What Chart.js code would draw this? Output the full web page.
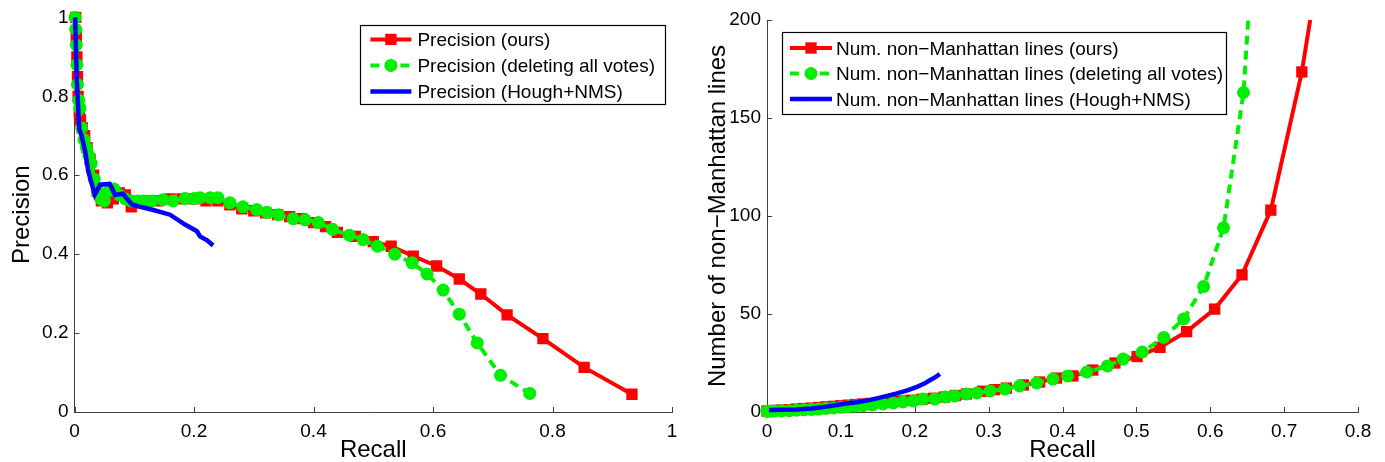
<!DOCTYPE html>
<html lang="en">
<head>
    <meta charset="UTF-8">
    <title>Precision / non-Manhattan lines vs Recall</title>
    <script src="https://cdn.jsdelivr.net/npm/chart.js"></script>
    <style>
        body {
            margin: 0;
            background: white;
        }

        .figure {
            position: relative;
            width: 1385px;
            height: 462px;
            overflow: hidden;
        }

        .figure canvas {
            position: absolute;
            top: 0;
        }
    </style>
</head>
<body>
    <div class="figure">
        <canvas id="precisionChart" width="690" height="465" style="left:0"></canvas>
        <canvas id="linesChart" width="695" height="465" style="left:690px"></canvas>
    </div>

    <script>
        // ---- left panel: precision vs recall ----
        const precOursRecall = [0.002, 0.003, 0.004, 0.005, 0.006, 0.008, 0.010, 0.013, 0.017, 0.021, 0.026, 0.032, 0.038, 0.045, 0.055, 0.065, 0.075, 0.085, 0.095, 0.105, 0.12, 0.14, 0.16, 0.18, 0.20, 0.22, 0.24, 0.26, 0.28, 0.30, 0.32, 0.34, 0.36, 0.38, 0.40, 0.42, 0.44, 0.47, 0.50, 0.53, 0.567, 0.606, 0.644, 0.680, 0.724, 0.784, 0.853, 0.933];
        const precOurs = [1.0, 0.95, 0.90, 0.85, 0.80, 0.76, 0.74, 0.72, 0.70, 0.67, 0.64, 0.60, 0.56, 0.535, 0.53, 0.54, 0.555, 0.55, 0.52, 0.53, 0.535, 0.535, 0.54, 0.54, 0.54, 0.535, 0.535, 0.525, 0.515, 0.51, 0.505, 0.50, 0.495, 0.49, 0.48, 0.47, 0.455, 0.445, 0.432, 0.42, 0.395, 0.37, 0.337, 0.299, 0.246, 0.186, 0.113, 0.045];

        const precDelRecall = [0.001, 0.002, 0.003, 0.004, 0.005, 0.007, 0.009, 0.012, 0.016, 0.020, 0.024, 0.028, 0.033, 0.038, 0.044, 0.050, 0.058, 0.066, 0.075, 0.085, 0.095, 0.105, 0.115, 0.13, 0.148, 0.165, 0.185, 0.20, 0.21, 0.227, 0.24, 0.26, 0.282, 0.305, 0.322, 0.341, 0.366, 0.386, 0.408, 0.432, 0.46, 0.483, 0.507, 0.536, 0.565, 0.590, 0.617, 0.644, 0.674, 0.713, 0.762];
        const precDel = [1.0, 0.97, 0.93, 0.88, 0.83, 0.79, 0.77, 0.72, 0.69, 0.67, 0.65, 0.63, 0.59, 0.56, 0.54, 0.535, 0.56, 0.565, 0.55, 0.54, 0.535, 0.535, 0.535, 0.535, 0.538, 0.535, 0.541, 0.541, 0.543, 0.543, 0.543, 0.53, 0.52, 0.513, 0.506, 0.50, 0.49, 0.487, 0.48, 0.463, 0.448, 0.437, 0.42, 0.40, 0.378, 0.35, 0.309, 0.248, 0.175, 0.093, 0.047];

        const precHoughRecall = [0.001, 0.004, 0.008, 0.012, 0.018, 0.023, 0.031, 0.034, 0.043, 0.059, 0.068, 0.081, 0.096, 0.11, 0.132, 0.16, 0.185, 0.205, 0.21, 0.222, 0.232];
        const precHough = [1.0, 0.835, 0.717, 0.70, 0.66, 0.61, 0.567, 0.551, 0.576, 0.578, 0.55, 0.553, 0.526, 0.52, 0.512, 0.50, 0.475, 0.458, 0.445, 0.435, 0.422];

        // ---- right panel: number of non-Manhattan lines vs recall ----
        const linesOursRecall = [0, 0.005, 0.01, 0.02, 0.03, 0.04, 0.05, 0.06, 0.07, 0.08, 0.09, 0.10, 0.11, 0.12, 0.13, 0.14, 0.15, 0.165, 0.18, 0.195, 0.21, 0.225, 0.24, 0.255, 0.27, 0.292, 0.308, 0.324, 0.347, 0.369, 0.392, 0.414, 0.441, 0.471, 0.501, 0.532, 0.568, 0.606, 0.643, 0.682, 0.724, 0.765];
        const linesOurs = [0.5, 0.6, 0.8, 1.0, 1.2, 1.5, 1.8, 2.0, 2.3, 2.6, 2.9, 3.2, 3.5, 3.8, 4.1, 4.4, 4.8, 5.2, 5.6, 6.0, 6.5, 7.0, 7.6, 8.4, 9.2, 10.6, 11.4, 12.2, 13.8, 15.3, 17.3, 18.4, 21.4, 25.0, 28.3, 33, 41, 52.5, 70, 103, 173.5, 270];

        const linesDelRecall = [0, 0.005, 0.01, 0.02, 0.03, 0.04, 0.05, 0.06, 0.07, 0.08, 0.09, 0.10, 0.11, 0.12, 0.13, 0.143, 0.157, 0.171, 0.184, 0.198, 0.211, 0.227, 0.241, 0.254, 0.27, 0.284, 0.302, 0.322, 0.342, 0.365, 0.387, 0.407, 0.433, 0.461, 0.482, 0.508, 0.537, 0.564, 0.591, 0.618, 0.645, 0.66];
        const linesDel = [0.3, 0.4, 0.5, 0.6, 0.7, 0.9, 1.1, 1.3, 1.5, 1.8, 2.1, 2.4, 2.7, 3.0, 3.3, 3.6, 4.1, 4.6, 5.1, 5.6, 6.6, 6.6, 7.7, 8.2, 9.2, 9.7, 10.7, 11.7, 13.3, 14.8, 16.8, 18.4, 20.4, 23.5, 27, 30.6, 38, 47.5, 64, 94, 163, 250];

        const linesHoughRecall = [0.003, 0.02, 0.04, 0.06, 0.076, 0.09, 0.105, 0.122, 0.14, 0.157, 0.176, 0.19, 0.203, 0.213, 0.221, 0.228, 0.234];
        const linesHough = [1, 1.1, 1.3, 1.8, 2.5, 3.3, 4.2, 5.0, 6.2, 7.7, 9.5, 11.0, 12.8, 14.5, 16.3, 17.8, 19.4];

        const precLabels = ["Precision (ours)", "Precision (deleting all votes)", "Precision (Hough+NMS)"];
        const linesLabels = ["Num. non\u2212Manhattan lines (ours)", "Num. non\u2212Manhattan lines (deleting all votes)", "Num. non\u2212Manhattan lines (Hough+NMS)"];

        const FONT = "'Liberation Sans', Arial, sans-serif";
        const AXIS_COLOR = "#404040";
        const RED = "#ff0000", GREEN = "#00ee00", BLUE = "#0000ff";

        function points(xs, ys) {
            return xs.map((x, i) => ({ x: x, y: ys[i] }));
        }

        // MATLAB style ticks pointing into the plot
        const inwardTicks = {
            id: "inwardTicks",
            beforeDatasetsDraw(chart) {
                const { ctx, chartArea, scales } = chart;
                const len = 5;
                ctx.save();
                ctx.strokeStyle = AXIS_COLOR;
                ctx.lineWidth = 1;
                scales.x.ticks.forEach(t => {
                    const px = Math.round(scales.x.getPixelForValue(t.value)) + 0.5;
                    ctx.beginPath();
                    ctx.moveTo(px, chartArea.bottom);
                    ctx.lineTo(px, chartArea.bottom - len);
                    ctx.stroke();
                });
                scales.y.ticks.forEach(t => {
                    const py = Math.round(scales.y.getPixelForValue(t.value)) + 0.5;
                    ctx.beginPath();
                    ctx.moveTo(chartArea.left, py);
                    ctx.lineTo(chartArea.left + len, py);
                    ctx.stroke();
                });
                ctx.restore();
            }
        };

        // boxed legend drawn inside the plot area
        const boxLegend = {
            id: "boxLegend",
            afterDraw(chart, args, opts) {
                const { ctx, chartArea } = chart;
                const sets = chart.data.datasets;
                ctx.save();
                ctx.font = opts.fontSize + "px " + FONT;
                const textW = Math.max(...sets.map(d => ctx.measureText(d.label).width));
                const w = opts.padLeft + opts.sample + opts.gap + textW + opts.padRight;
                const h = opts.padTop + opts.rowH * (sets.length - 1) + opts.padBottom;
                const x0 = opts.align === "right" ? chartArea.right - opts.offsetX - w : chartArea.left + opts.offsetX;
                const y0 = chartArea.top + opts.offsetY;

                ctx.fillStyle = "white";
                ctx.fillRect(x0, y0, w, h);
                ctx.strokeStyle = "black";
                ctx.lineWidth = 1.2;
                ctx.strokeRect(Math.round(x0) + 0.5, Math.round(y0) + 0.5, Math.round(w), Math.round(h));

                sets.forEach((d, i) => {
                    const cy = y0 + opts.padTop + i * opts.rowH;
                    const sx = x0 + opts.padLeft;
                    ctx.strokeStyle = d.borderColor;
                    ctx.lineWidth = d.borderWidth;
                    ctx.setLineDash(d.borderDash || []);
                    ctx.beginPath();
                    ctx.moveTo(sx, cy);
                    ctx.lineTo(sx + opts.sample, cy);
                    ctx.stroke();
                    ctx.setLineDash([]);

                    const mx = sx + opts.sample / 2;
                    ctx.fillStyle = d.pointBackgroundColor;
                    if (d.pointStyle === "rect" && d.pointRadius > 0) {
                        const s = d.pointRadius * Math.SQRT2;
                        ctx.fillRect(mx - s / 2, cy - s / 2, s, s);
                    } else if (d.pointRadius > 0) {
                        ctx.beginPath();
                        ctx.arc(mx, cy, d.pointRadius, 0, Math.PI * 2);
                        ctx.fill();
                    }

                    ctx.fillStyle = "black";
                    ctx.textBaseline = "middle";
                    ctx.textAlign = "left";
                    ctx.fillText(d.label, sx + opts.sample + opts.gap, cy + 1.5);
                });
                ctx.restore();
            }
        };

        function makeDatasets(labels, ours, del, hough, clip) {
            return [
                {
                    label: labels[0], data: ours, order: 3,
                    borderColor: RED, borderWidth: 4,
                    pointStyle: "rect", pointRadius: 8, pointHoverRadius: 8,
                    pointBackgroundColor: RED, pointBorderColor: RED, pointBorderWidth: 0,
                    tension: 0, clip: clip
                },
                {
                    label: labels[1], data: del, order: 2,
                    borderColor: GREEN, borderWidth: 4, borderDash: [9, 6],
                    pointStyle: "circle", pointRadius: 6.5, pointHoverRadius: 6.5,
                    pointBackgroundColor: GREEN, pointBorderColor: GREEN, pointBorderWidth: 0,
                    tension: 0, clip: clip
                },
                {
                    label: labels[2], data: hough, order: 1,
                    borderColor: BLUE, borderWidth: 4.5,
                    pointRadius: 0, pointHoverRadius: 0,
                    pointBackgroundColor: BLUE,
                    tension: 0, clip: clip
                }
            ];
        }

        function axis(min, max, step, title, fixedSize, titlePad, isY) {
            return {
                type: "linear",
                min: min, max: max,
                ticks: {
                    stepSize: step,
                    color: "black",
                    padding: isY ? 6 : 8,
                    font: { family: FONT, size: 19 },
                    // plain numbers like MATLAB: 0, 0.2, 1, 150
                    callback: value => String(parseFloat(value.toFixed(3)))
                },
                grid: { display: true, drawOnChartArea: false, drawTicks: false },
                border: { display: true, color: AXIS_COLOR, width: 1 },
                title: {
                    display: true, text: title, color: "black",
                    font: { family: FONT, size: 24 },
                    padding: titlePad
                },
                afterFit(scale) {
                    if (isY) scale.width = fixedSize; else scale.height = fixedSize;
                }
            };
        }

        function baseOptions(padding, xAxis, yAxis, legendOpts) {
            return {
                responsive: false,
                animation: false,
                devicePixelRatio: 1,
                layout: { padding: padding, autoPadding: false },
                scales: { x: xAxis, y: yAxis },
                plugins: {
                    legend: { display: false },
                    tooltip: { enabled: false },
                    boxLegend: legendOpts
                }
            };
        }

        new Chart(document.getElementById("precisionChart"), {
            type: "line",
            data: {
                datasets: makeDatasets(
                    precLabels,
                    points(precOursRecall, precOurs),
                    points(precDelRecall, precDel),
                    points(precHoughRecall, precHough),
                    { left: 10, top: 10, right: 10, bottom: 10 }
                )
            },
            options: baseOptions(
                { top: 15, right: 18, left: 0, bottom: 0 },
                axis(0, 1, 0.2, "Recall", 53, { top: 0, bottom: 0 }, false),
                axis(0, 1, 0.2, "Precision", 74.5, { top: 8, bottom: 0 }, true),
                { align: "right", offsetX: 7, offsetY: 8, fontSize: 19, padLeft: 10, sample: 41, gap: 6, padRight: 10, padTop: 14, rowH: 26, padBottom: 13 }
            ),
            plugins: [inwardTicks, boxLegend]
        });

        new Chart(document.getElementById("linesChart"), {
            type: "line",
            data: {
                datasets: makeDatasets(
                    linesLabels,
                    points(linesOursRecall, linesOurs),
                    points(linesDelRecall, linesDel),
                    points(linesHoughRecall, linesHough),
                    { left: 10, top: 0, right: 10, bottom: 10 }
                )
            },
            options: baseOptions(
                { top: 20, right: 27, left: 0, bottom: 0 },
                axis(0, 0.8, 0.1, "Recall", 53, { top: 0, bottom: 0 }, false),
                axis(0, 200, 50, "Number of non\u2212Manhattan lines", 77, { top: 13.5, bottom: 0 }, true),
                { align: "left", offsetX: 15, offsetY: 12, fontSize: 19, padLeft: 8, sample: 42, gap: 4, padRight: 3, padTop: 16, rowH: 25.5, padBottom: 15 }
            ),
            plugins: [inwardTicks, boxLegend]
        });
    </script>
</body>
</html>
